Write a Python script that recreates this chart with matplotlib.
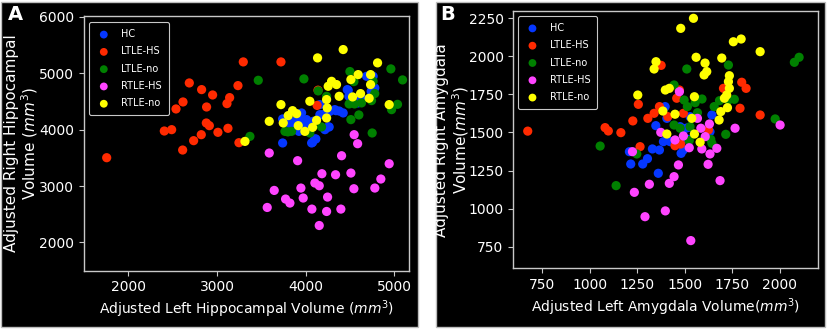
import matplotlib
matplotlib.use("Agg")
import matplotlib.pyplot as plt
from matplotlib.patches import Rectangle

GROUPS = ["HC", "LTLE-HS", "LTLE-no", "RTLE-HS", "RTLE-no"]
COLORS = ["#0537ff", "#ff2a00", "#008000", "#ff44ff", "#ffff00"]

# panel A: hippocampal volumes (left, right)
hip_hc_x = [3741, 3741, 3955, 3860, 3925, 4161, 4079, 4116, 4255, 4330, 4424, 4488, 4470,
            4593, 4781, 4762, 4218, 4161, 4481, 4688, 4342, 4274, 4191, 4086, 4011, 3936,
            3880, 3823, 4266, 4105, 4068, 3936, 4000, 4060, 4380, 4630, 4740]
hip_hc_y = [4190, 3764, 4296, 4119, 3970, 4266, 3775, 3835, 4048, 4355, 4296, 4591, 4710,
            4474, 4740, 4946, 4000, 4444, 4698, 4946, 4337, 4325, 4266, 4148, 4178, 4178,
            4150, 4107, 4048, 3835, 3764, 4030, 4100, 4060, 4330, 4560, 4680]
hip_lhs_x = [1756, 2406, 2489, 2538, 2617, 2688, 2613, 2737, 2827, 2823, 2883, 2880, 2914,
             2951, 3011, 3124, 3113, 3143, 3237, 3248, 3297, 3722, 4130, 4140]
hip_lhs_y = [3503, 3976, 4000, 4367, 4491, 4828, 3639, 3805, 4710, 3911, 4402, 4118, 4071,
             4615, 3953, 4024, 4462, 4568, 4781, 3769, 5201, 5201, 4430, 4700]
hip_lno_x = [3466, 3981, 4500, 4962, 5094, 4142, 4237, 4491, 4552, 4631, 4744, 4970, 5037,
             4601, 4511, 4751, 3372, 3767, 3842, 4048, 4180, 4545, 4762, 3800, 4780]
hip_lno_y = [4875, 4900, 5030, 5077, 4882, 4687, 4591, 4456, 4456, 4474, 4515, 4355, 4449,
             4261, 4178, 3941, 3881, 3970, 3970, 3941, 4048, 4852, 4857, 3960, 4640]
hip_rhs_x = [3567, 3590, 3646, 3774, 3823, 3910, 3947, 3973, 4071, 4105, 4154, 4154, 4184,
             4248, 4237, 4338, 4406, 4398, 4511, 4548, 4545, 4587, 4781, 4849, 4943]
hip_rhs_y = [2621, 3586, 2923, 2770, 2699, 3450, 2965, 2788, 2592, 3054, 3006, 2301, 3219,
             2805, 2550, 3201, 3538, 2592, 3231, 3911, 2953, 3751, 2965, 3125, 3396]
hip_rno_x = [3316, 3590, 3722, 3748, 3804, 3853, 3899, 3917, 3992, 4079, 4124, 4048, 4135,
             4237, 4244, 4237, 4255, 4293, 4349, 4379, 4424, 4511, 4530, 4593, 4620, 4717,
             4733, 4733, 4812, 4943]
hip_rno_y = [3792, 4148, 4444, 4119, 4249, 4337, 4284, 4071, 3970, 4041, 4166, 4503, 5272,
             4207, 4385, 4533, 4769, 4857, 4799, 4591, 5420, 4888, 4580, 4976, 4639, 4556,
             4799, 4976, 5184, 4444]

# panel B: amygdala volumes (left, right)
amy_hc_x = [1208, 1215, 1278, 1303, 1360, 1329, 1366, 1347, 1396, 1405, 1387, 1422, 1480,
            1492, 1475, 1506, 1523, 1527, 1642, 1632, 1515]
amy_hc_y = [1374, 1293, 1293, 1328, 1232, 1392, 1385, 1545, 1670, 1593, 1440, 1440, 1363,
            1385, 1538, 1528, 1534, 1604, 1615, 1505, 1455]
amy_lhs_x = [673, 1080, 1097, 1163, 1226, 1255, 1264, 1305, 1338, 1366, 1375, 1410, 1448,
             1457, 1471, 1478, 1492, 1624, 1703, 1799, 1822, 1790, 1896]
amy_lhs_y = [1509, 1532, 1510, 1499, 1576, 1685, 1407, 1593, 1626, 1670, 1941, 1604, 1413,
             1725, 1779, 1424, 1626, 1517, 1790, 1830, 1790, 1659, 1615]
amy_lno_x = [1054, 1138, 1247, 1443, 1510, 1496, 1513, 1554, 1566, 1590, 1527, 1475, 1443,
             1523, 1636, 1642, 1654, 1682, 1729, 1729, 1760, 1715, 1975, 2076, 2101]
amy_lno_y = [1411, 1151, 1359, 1812, 1917, 1713, 1670, 1696, 1630, 1720, 1538, 1528, 1549,
             1447, 1455, 1429, 1670, 1709, 1943, 1713, 1718, 1488, 1589, 1961, 1994]
amy_rhs_x = [1224, 1234, 1290, 1313, 1397, 1418, 1443, 1466, 1471, 1531, 1373, 1448, 1492,
             1523, 1566, 1589, 1584, 1607, 1629, 1632, 1622, 1668, 1685, 1764, 2001]
amy_rhs_y = [1374, 1107, 947, 1160, 985, 1166, 1210, 1287, 1768, 790, 1501, 1451, 1477,
             1400, 1593, 1392, 1528, 1473, 1556, 1359, 1291, 1396, 1184, 1528, 1549]
amy_rno_x = [1545, 1478, 1755, 1796, 1896, 1559, 1606, 1694, 1348, 1338, 1601, 1615, 1734,
             1729, 1734, 1720, 1708, 1724, 1689, 1680, 1252, 1397, 1418, 1384, 1448, 1550,
             1536, 1550, 1580, 1405]
amy_rno_y = [2250, 2184, 2096, 2114, 2031, 1994, 1956, 1989, 1965, 1917, 1878, 1900, 1873,
             1834, 1790, 1746, 1725, 1663, 1637, 1582, 1746, 1779, 1790, 1641, 1620, 1735,
             1593, 1490, 1436, 1490]

hip_x = [hip_hc_x, hip_lhs_x, hip_lno_x, hip_rhs_x, hip_rno_x]
hip_y = [hip_hc_y, hip_lhs_y, hip_lno_y, hip_rhs_y, hip_rno_y]
amy_x = [amy_hc_x, amy_lhs_x, amy_lno_x, amy_rhs_x, amy_rno_x]
amy_y = [amy_hc_y, amy_lhs_y, amy_lno_y, amy_rhs_y, amy_rno_y]

W, H = 827, 329
fig = plt.figure(figsize=(W / 100, H / 100), dpi=100, facecolor="white")

# black panel backgrounds
for x0, x1 in [(1, 418), (436, 825)]:
    fig.patches.append(Rectangle(
        (x0 / W, 2 / H), (x1 - x0) / W, 325 / H, transform=fig.transFigure,
        facecolor="black", edgecolor="#bdbdbd", linewidth=1.0, zorder=-10
    ))

GRAY = "#c8c8c8"


def setup(ax, xs, ys, xlim, ylim, xticks, yticks, xlabel, ylabel, leg_anchor, ylab_x):
    ax.set_facecolor("black")
    for g, c, x, y in zip(GROUPS, COLORS, xs, ys):
        ax.scatter(x, y, s=44, c=c, label=g, edgecolors="none")
    ax.set_xlim(*xlim)
    ax.set_ylim(*ylim)
    ax.set_xticks(xticks)
    ax.set_yticks(yticks)
    for s in ax.spines.values():
        s.set_color(GRAY)
        s.set_linewidth(1.0)
    ax.tick_params(colors=GRAY, labelcolor="white", length=3.5, labelsize=10)
    ax.set_xlabel(xlabel, color="white", fontsize=10)
    ax.set_ylabel(ylabel, color="white", fontsize=11, linespacing=1.05)
    ax.xaxis.set_label_coords(0.5, -0.11)
    ax.yaxis.set_label_coords(ylab_x, 0.5)
    leg = ax.legend(loc="upper left", bbox_to_anchor=leg_anchor, borderaxespad=0,
                    fontsize=7, facecolor="black", edgecolor=GRAY, labelcolor="white",
                    framealpha=1, handletextpad=1.0, borderpad=0.7, labelspacing=0.75,
                    markerscale=0.85, handlelength=1.6)
    leg.get_frame().set_linewidth(0.8)


axA = fig.add_axes([84 / W, 1 - 270.7 / H, 325.3 / W, 255 / H])
setup(axA, hip_x, hip_y, (1500, 5170), (1500, 6020),
      [2000, 3000, 4000, 5000], [2000, 3000, 4000, 5000, 6000],
      r"Adjusted Left Hippocampal Volume ($mm^3$)",
      "Adjusted Right Hippocampal\n" + r"Volume ($mm^3$)", (0.016, 0.974), -0.135)

axB = fig.add_axes([513.3 / W, 1 - 268.3 / H, 305 / W, 257.3 / H])
setup(axB, amy_x, amy_y, (597, 2202), (608, 2298),
      [750, 1000, 1250, 1500, 1750, 2000], [750, 1000, 1250, 1500, 1750, 2000, 2250],
      r"Adjusted Left Amygdala Volume($mm^3$)",
      "Adjusted Right Amygdala\n" + r"Volume($mm^3$)", (0.015, 0.98), -0.14)

fig.text(15 / W, 1 - 15 / H, "A", color="white", fontsize=14, fontweight="bold",
         ha="center", va="center")
fig.text(448 / W, 1 - 15 / H, "B", color="white", fontsize=14, fontweight="bold",
         ha="center", va="center")

fig.savefig("out.png", dpi=100, facecolor="white")
